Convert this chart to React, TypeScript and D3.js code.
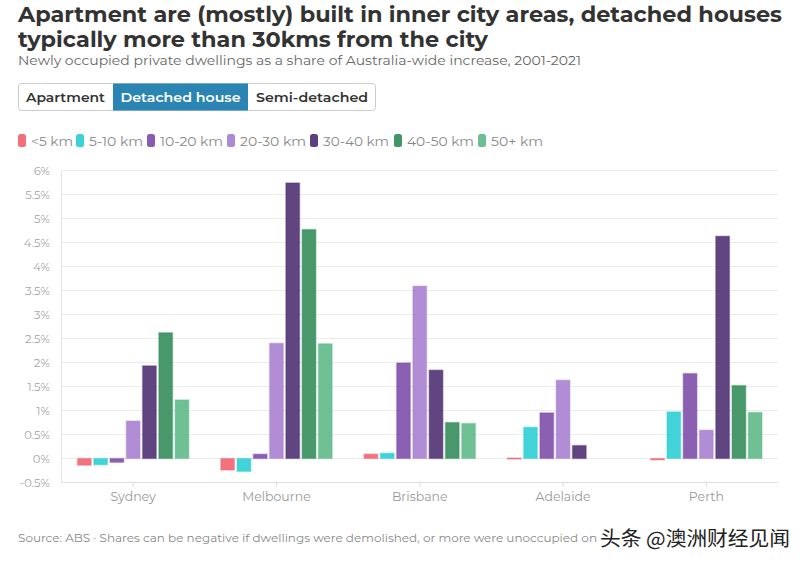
import React from "react";
import * as d3 from "d3";

const cities = ["Sydney", "Melbourne", "Brisbane", "Adelaide", "Perth"];
const seriesNames = ["<5 km", "5-10 km", "10-20 km", "20-30 km", "30-40 km", "40-50 km", "50+ km"];
const seriesColors = ["#f0606e", "#28cdd4", "#7b4aa9", "#a57dcf", "#4a2b6f", "#2f8a57", "#5cb787"];
const lt5 = [-0.14, -0.24, 0.09, 0.01, -0.03];
const km5to10 = [-0.13, -0.27, 0.11, 0.65, 0.97];
const km10to20 = [-0.08, 0.09, 1.99, 0.95, 1.77];
const km20to30 = [0.78, 2.4, 3.59, 1.63, 0.59];
const km30to40 = [1.93, 5.74, 1.84, 0.27, 4.63];
const km40to50 = [2.62, 4.77, 0.75, null, 1.52];
const km50plus = [1.22, 2.39, 0.73, null, 0.96];
const seriesValues = [lt5, km5to10, km10to20, km20to30, km30to40, km40to50, km50plus];
const yTicks = [-0.5, 0, 0.5, 1, 1.5, 2, 2.5, 3, 3.5, 4, 4.5, 5, 5.5, 6];
const tabs = ["Apartment", "Detached house", "Semi-detached"];

const W = 805;
const H = 566;
const font = "Montserrat, 'DejaVu Sans', sans-serif";

export default function App() {
  const x = d3.scaleBand().domain(cities).range([61.5, 778]);
  const inner = d3
    .scaleBand()
    .domain(seriesNames)
    .range([16, x.bandwidth() - 16])
    .paddingInner(0.16);
  const y = d3.scaleLinear().domain([-0.5, 6]).range([482.5, 170.5]);
  const fmt = (v: number) => `${v}%`;

  const tabX = [18, 113, 248, 376];
  const tabTextW = [79, 120, 112];

  const legendX = [18, 76, 147, 227, 310, 394, 478];
  const legendTextW = [42, 54, 63, 66, 66, 67, 52];

  return (
    <svg width={W} height={H} style={{ position: "absolute", left: 0, top: 0, background: "#fff" }}>
      {/* Title */}
      <text x={18} y={22} fontFamily={font} fontWeight="bold" fontSize={21.5} fill="#333" textLength={764} lengthAdjust="spacingAndGlyphs">
        Apartment are (mostly) built in inner city areas, detached houses
      </text>
      <text x={18} y={47} fontFamily={font} fontWeight="bold" fontSize={21.5} fill="#333" textLength={470} lengthAdjust="spacingAndGlyphs">
        typically more than 30kms from the city
      </text>
      <text x={18} y={65} fontFamily={font} fontSize={13} fill="#666" textLength={563} lengthAdjust="spacingAndGlyphs">
        Newly occupied private dwellings as a share of Australia-wide increase, 2001-2021
      </text>

      {/* Tabs */}
      <rect x={18.5} y={83.5} width={357} height={27} rx={3} fill="#fff" stroke="#ccc" />
      <rect x={tabX[1]} y={83.5} width={tabX[2] - tabX[1]} height={27} fill="#2b85b3" />
      {tabs.map((t, i) => (
        <text
          key={t}
          x={(tabX[i] + tabX[i + 1]) / 2}
          y={102}
          textAnchor="middle"
          fontFamily={font}
          fontWeight={600}
          fontSize={13}
          fill={i === 1 ? "#fff" : "#333"}
          textLength={tabTextW[i]}
          lengthAdjust="spacingAndGlyphs"
        >
          {t}
        </text>
      ))}

      {/* Legend */}
      {seriesNames.map((s, i) => (
        <g key={s}>
          <rect x={legendX[i]} y={134} width={8} height={13} rx={2.5} fill={seriesColors[i]} opacity={0.9} />
          <text
            x={legendX[i] + 13}
            y={146}
            fontFamily={font}
            fontSize={13}
            fill="#888"
            textLength={legendTextW[i]}
            lengthAdjust="spacingAndGlyphs"
          >
            {s}
          </text>
        </g>
      ))}

      {/* Grid */}
      {yTicks.map((t) => (
        <g key={t}>
          <line x1={61.5} x2={778} y1={y(t)} y2={y(t)} stroke={t === -0.5 ? "#ddd" : "#ececec"} />
          <text x={50} y={y(t) + 4} textAnchor="end" fontFamily={font} fontSize={11.5} fill="#a5a5a5">
            {fmt(t)}
          </text>
        </g>
      ))}
      <line x1={61.5} x2={61.5} y1={170.5} y2={482.5} stroke="#e4e4e4" />

      {/* Bars */}
      {cities.map((c, ci) => (
        <g key={c} transform={`translate(${x(c)},0)`}>
          {seriesNames.map((s, si) => {
            const v = seriesValues[si][ci];
            if (v === null || v === undefined) return null;
            const y0 = y(0);
            const y1 = y(v);
            const top = Math.min(y0, y1);
            const h = Math.max(Math.abs(y1 - y0), 1);
            return (
              <rect
                key={s}
                x={inner(s)}
                y={top}
                width={inner.bandwidth()}
                height={h}
                fill={seriesColors[si]}
                fillOpacity={0.88}
                stroke={seriesColors[si]}
                strokeOpacity={0.35}
                strokeWidth={1.5}
              />
            );
          })}
        </g>
      ))}

      {/* X axis labels */}
      {cities.map((c) => (
        <g key={c}>
          <line x1={x(c)! + x.bandwidth() / 2} x2={x(c)! + x.bandwidth() / 2} y1={482.5} y2={487} stroke="#ddd" />
          <text x={x(c)! + x.bandwidth() / 2} y={501} textAnchor="middle" fontFamily={font} fontSize={12.5} fill="#999">
            {c}
          </text>
        </g>
      ))}

      {/* Footer */}
      <text x={18} y={542} fontFamily={font} fontSize={11.5} fill="#888" textLength={579} lengthAdjust="spacingAndGlyphs">
        Source: ABS · Shares can be negative if dwellings were demolished, or more were unoccupied on
      </text>
      <text
        x={600}
        y={546}
        fontFamily="'Noto Sans CJK SC', sans-serif"
        fontSize={20}
        fill="#222"
        stroke="#fff"
        strokeWidth={3}
        paintOrder="stroke"
        textLength={190}
        lengthAdjust="spacingAndGlyphs"
      >
        头条 @澳洲财经见闻
      </text>
    </svg>
  );
}
